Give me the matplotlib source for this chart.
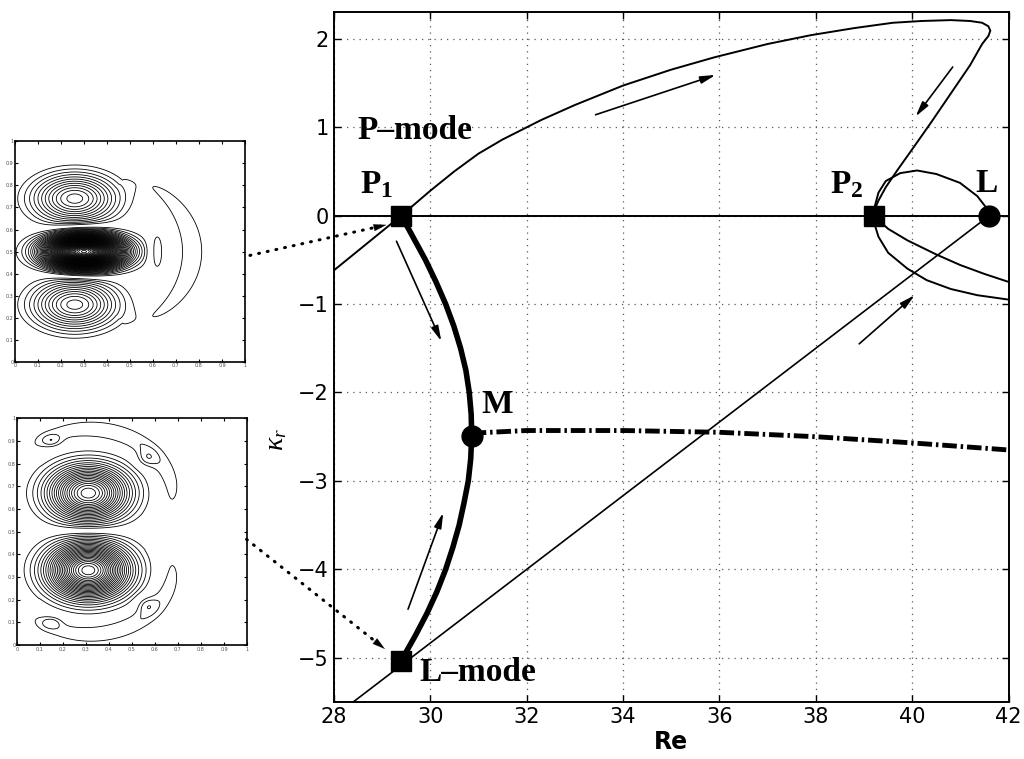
import numpy as np
import matplotlib.pyplot as plt

plt.rcParams['mathtext.fontset'] = 'custom'
plt.rcParams['mathtext.rm'] = 'Liberation Serif'
plt.rcParams['mathtext.bf'] = 'Liberation Serif:bold'
plt.rcParams['mathtext.it'] = 'Liberation Serif:italic'

# P-mode branch: from the left edge through P1, over the top and back down to P2
re_pmode = [28.0, 29.4, 30.0, 30.5, 31.0, 31.5, 32.3, 33.0, 34.0, 35.0, 35.9, 37.0,
            37.9, 38.8, 39.6, 40.2, 40.8, 41.2, 41.45, 41.58, 41.62, 41.58, 41.45,
            41.2, 40.8, 40.4, 40.0, 39.7, 39.45, 39.3, 39.22, 39.2]
k_pmode = [-0.62, 0.0, 0.28, 0.5, 0.7, 0.86, 1.08, 1.25, 1.47, 1.65, 1.79, 1.94,
           2.04, 2.12, 2.18, 2.2, 2.21, 2.2, 2.18, 2.14, 2.09, 2.03, 1.94,
           1.7, 1.38, 1.06, 0.75, 0.52, 0.32, 0.17, 0.07, 0.0]

# branches leaving P2 towards the right edge
re_p2_upper = [39.2, 39.5, 39.9, 40.5, 41.0, 41.5, 42.0]
k_p2_upper = [0.0, -0.15, -0.28, -0.44, -0.56, -0.66, -0.75]
re_p2_lower = [39.2, 39.22, 39.3, 39.5, 39.9, 40.3, 40.8, 41.35, 42.0]
k_p2_lower = [0.0, -0.1, -0.24, -0.42, -0.6, -0.73, -0.83, -0.9, -0.95]

# loop from P2 round to L
re_loop = [39.2, 39.22, 39.3, 39.45, 39.75, 40.1, 40.5, 40.99, 41.35, 41.52, 41.6]
k_loop = [0.0, 0.1, 0.26, 0.39, 0.48, 0.51, 0.47, 0.37, 0.22, 0.1, 0.0]

# L-mode line through the L-mode point up to L
re_lmode = [28.4, 41.6]
k_lmode = [-5.5, 0.0]

# mixed branch P1 -> M -> L-mode (bold)
k_mixed = [0.0, -0.25, -0.5, -0.75, -1.0, -1.25, -1.5, -1.75, -2.0, -2.25, -2.49,
           -2.75, -3.0, -3.25, -3.5, -3.75, -4.0, -4.25, -4.5, -4.75, -5.03]
re_mixed = [29.4, 29.65, 29.9, 30.12, 30.32, 30.49, 30.63, 30.74, 30.81, 30.85, 30.86,
            30.84, 30.79, 30.7, 30.6, 30.47, 30.32, 30.14, 29.93, 29.69, 29.4]

# secondary branch from M (dash-dot)
re_second = [30.86, 32.0, 34.0, 36.0, 38.0, 40.0, 42.0]
k_second = [-2.46, -2.43, -2.43, -2.45, -2.5, -2.57, -2.65]

# bifurcation points
sq_re = [29.4, 39.2, 29.4]
sq_k = [0.0, 0.0, -5.03]
circ_re = [30.86, 41.6]
circ_k = [-2.49, 0.0]

# direction arrows (start, end)
flow_arrows = [((33.43, 1.14), (35.92, 1.59)),
               ((40.84, 1.68), (40.07, 1.12)),
               ((29.3, -0.29), (30.23, -1.42)),
               ((29.54, -4.45), (30.27, -3.36)),
               ((38.9, -1.45), (40.05, -0.9))]

# dotted connectors from the eigenmode panels
link_top = ((26.26, -0.45), (29.09, -0.105))
link_bottom = ((26.19, -3.66), (29.06, -4.90))

labels = [('P–mode', 28.5, 0.87), (r'$\mathbf{P_1}$', 28.54, 0.25),
          (r'$\mathbf{P_2}$', 38.29, 0.25), ('L', 41.3, 0.27),
          ('M', 31.07, -2.23), ('L–mode', 29.78, -5.26)]

# vortices of the two eigenmodes: centre x, centre y, wx, wy, amplitude
pmode_vortices = [(0.30, 0.50, 0.15, 0.068, -1.7),
                  (0.26, 0.74, 0.176, 0.108, 0.40),
                  (0.26, 0.26, 0.176, 0.108, 0.40),
                  (0.615, 0.50, 0.035, 0.10, 0.09)]
# arcs: centre x, centre y, rx, ry, band width, amplitude, facing angle, half-spread
pmode_arcs = [(0.20, 0.50, 0.57, 0.43, 0.15, 0.07, 0.0, 58.0)]
lmode_vortices = [(0.31, 0.67, 0.165, 0.115, 0.85),
                  (0.31, 0.33, 0.165, 0.115, -1.05),
                  (0.15, 0.90, 0.045, 0.028, -0.08),
                  (0.56, 0.82, 0.045, 0.04, -0.08),
                  (0.15, 0.10, 0.045, 0.028, 0.08),
                  (0.56, 0.18, 0.045, 0.04, 0.08)]
lmode_arcs = [(0.31, 0.66, 0.36, 0.29, 0.17, -0.10, 60.0, 82.0),
              (0.31, 0.34, 0.36, 0.29, 0.17, 0.10, -60.0, 82.0)]


def vortex_field(x, y, vortices):
    f = np.zeros_like(x)
    for cx, cy, wx, wy, a in vortices:
        f += a * np.exp(-((x - cx) / wx) ** 2 - ((y - cy) / wy) ** 2)
    return f


def arc_field(x, y, arcs):
    f = np.zeros_like(x)
    for cx, cy, rx, ry, w, a, facing, spread in arcs:
        u = (x - cx) / rx
        v = (y - cy) / ry
        r = np.hypot(u, v)
        ang = np.arctan2(v, u) - np.deg2rad(facing)
        c0 = np.cos(np.deg2rad(spread))
        weight = np.clip((np.cos(ang) - c0) / (1 - c0), 0, None) ** 0.4
        f += a * np.exp(-((r - 1) / w) ** 2) * weight
    return f


xs = np.linspace(0, 1, 400)
X, Y = np.meshgrid(xs, xs)
psi_p = vortex_field(X, Y, pmode_vortices) + arc_field(X, Y, pmode_arcs)
psi_l = vortex_field(X, Y, lmode_vortices) + arc_field(X, Y, lmode_arcs)

fig = plt.figure(figsize=(10.24, 7.59), dpi=100)

# eigenmode panels
for rect, psi, step in [([0.0146, 0.523, 0.2246, 0.291], psi_p, 0.03),
                        ([0.0166, 0.150, 0.2246, 0.299], psi_l, 0.04)]:
    axi = fig.add_axes(rect)
    lev = np.arange(-2.0, 2.0, step) + step / 2
    lev = lev[np.abs(lev) > 0.9 * step]
    axi.contour(X, Y, psi, levels=lev, colors='k', linewidths=0.6,
                negative_linestyles='solid')
    ticks = np.arange(0, 1.01, 0.1)
    axi.set_xlim(0, 1)
    axi.set_ylim(0, 1)
    axi.set_xticks(ticks)
    axi.set_yticks(ticks)
    axi.set_xticklabels(['%g' % t for t in ticks])
    axi.set_yticklabels(['%g' % t for t in ticks])
    axi.tick_params(direction='in', length=2, labelsize=3.5, pad=1,
                    labelcolor='0.3', top=True, right=True)
    for s in axi.spines.values():
        s.set_linewidth(1.2)

# bifurcation diagram
ax = fig.add_axes([0.326, 0.075, 0.659, 0.909])
ax.set_xlim(28, 42)
ax.set_ylim(-5.5, 2.3)
ax.set_xticks(np.arange(28, 43, 2))
ax.set_yticks(np.arange(-5, 3, 1))
ax.grid(True, linestyle=(0, (1, 4)), color='0.35', lw=0.9)
ax.tick_params(direction='in', top=True, right=True, length=5, width=1,
               labelsize=15)
for s in ax.spines.values():
    s.set_linewidth(1.4)

ax.axhline(0, color='k', lw=1.4)
ax.plot(re_pmode, k_pmode, 'k', lw=1.4)
ax.plot(re_p2_upper, k_p2_upper, 'k', lw=1.4)
ax.plot(re_p2_lower, k_p2_lower, 'k', lw=1.4)
ax.plot(re_loop, k_loop, 'k', lw=1.4)
ax.plot(re_lmode, k_lmode, 'k', lw=1.2)
ax.plot(re_mixed, k_mixed, 'k', lw=4, solid_capstyle='round',
        solid_joinstyle='round')
ax.plot(re_second, k_second, 'k', lw=3.5, linestyle=(0, (3, 0.8, 0.5, 0.8)))
ax.plot(sq_re, sq_k, 's', ms=14, color='k', zorder=5)
ax.plot(circ_re, circ_k, 'o', ms=15, color='k', zorder=5)

for start, end in flow_arrows:
    ax.annotate('', xy=end, xytext=start,
                arrowprops=dict(arrowstyle='-|>,head_length=0.9,head_width=0.22',
                                lw=1.2, color='k', shrinkA=0, shrinkB=0))

for start, end in [link_top, link_bottom]:
    ax.plot([start[0], end[0]], [start[1], end[1]], color='k', lw=2.2,
            linestyle=(0, (0.3, 2.6)), dash_capstyle='round', clip_on=False)
    mid = (end[0] - 0.12 * (end[0] - start[0]), end[1] - 0.12 * (end[1] - start[1]))
    ax.annotate('', xy=end, xytext=mid, annotation_clip=False,
                arrowprops=dict(arrowstyle='-|>,head_length=0.9,head_width=0.25',
                                lw=0.1, color='k', shrinkA=0, shrinkB=0))

for txt, xr, yk in labels:
    ax.text(xr, yk, txt, fontfamily='Liberation Serif', fontweight='bold',
            fontsize=24, va='baseline', ha='left')

ax.set_xlabel('Re', fontsize=17, fontweight='bold', labelpad=2)
ax.set_ylabel(r'$\kappa_r$', fontsize=20, rotation=90)
ax.yaxis.set_label_coords(-0.066, 0.38)

fig.savefig('out.png', dpi=100)
